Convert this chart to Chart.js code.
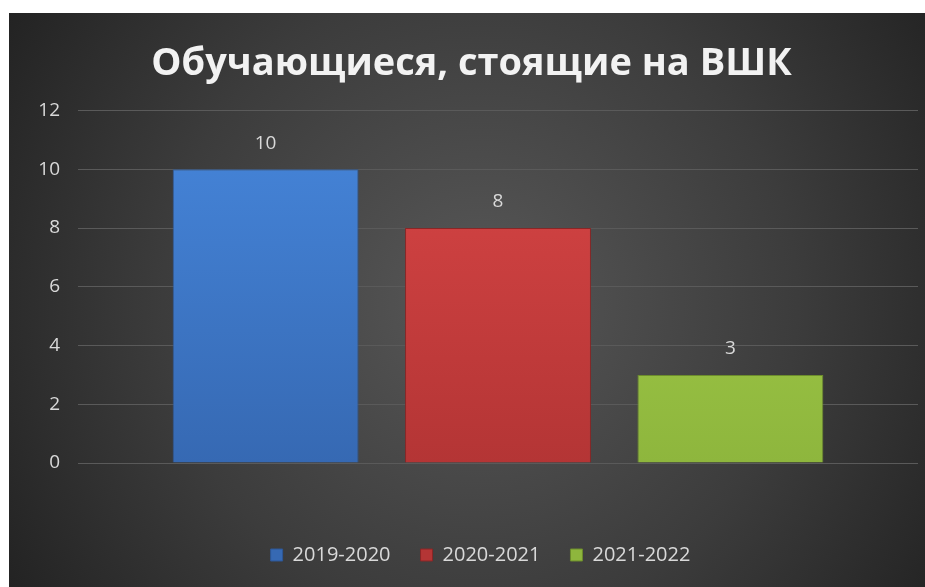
<!DOCTYPE html>
<html>
<head>
<meta charset="utf-8">
<script src="https://cdn.jsdelivr.net/npm/chart.js@4/dist/chart.umd.min.js"></script>
<style>
  html, body { margin: 0; padding: 0; background: #fff; }
  #chart { display: block; }
</style>
</head>
<body>
<canvas id="chart" width="925" height="587"></canvas>
<script>
// Chart data
const chartTitle = "Обучающиеся, стоящие на ВШК";
const categories = [""];
const seriesNames = ["2019-2020", "2020-2021", "2021-2022"];
const seriesValues = [10, 8, 3];
const yTicks = [0, 2, 4, 6, 8, 10, 12];

// colours: [top, bottom, border]
const palette = [
  ["#4686db", "#3669b3", "#2c5796"],
  ["#d94646", "#b43535", "#8a2626"],
  ["#a8d24c", "#8eb63d", "#6c8c2c"]
];

Chart.defaults.font.family = "'Open Sans', sans-serif";

function barFill(i) {
  return (c) => {
    const area = c.chart.chartArea;
    if (!area) return palette[i][0];
    const g = c.chart.ctx.createLinearGradient(0, area.top, 0, area.bottom);
    g.addColorStop(0, palette[i][0]);
    g.addColorStop(1, palette[i][1]);
    return g;
  };
}

// dark backdrop with a soft light in the middle
const backdrop = {
  id: "backdrop",
  beforeDraw(chart) {
    const c = chart.ctx;
    c.save();
    c.fillStyle = "#ffffff";
    c.fillRect(0, 0, chart.width, chart.height);
    const g = c.createRadialGradient(480, 300, 20, 480, 300, 560);
    g.addColorStop(0, "#565656");
    g.addColorStop(0.55, "#3c3c3c");
    g.addColorStop(1, "#222222");
    c.fillStyle = g;
    c.fillRect(9, 13, chart.width - 9, chart.height - 13);
    c.restore();
  }
};

// nudge title and legend a little to the right, like the original
const nudge = {
  id: "nudge",
  afterLayout(chart) {
    const t = chart.titleBlock, l = chart.legend;
    if (t) { t.left += 8; t.right += 8; }
    if (l) { l.left += 17; l.right += 17; }
  }
};

// value labels above the bars
const valueLabels = {
  id: "valueLabels",
  afterDatasetsDraw(chart) {
    const c = chart.ctx;
    c.save();
    c.font = "19px 'Open Sans', sans-serif";
    c.fillStyle = "#d9d9d9";
    c.textAlign = "center";
    c.textBaseline = "middle";
    chart.data.datasets.forEach((ds, i) => {
      chart.getDatasetMeta(i).data.forEach((bar, j) => {
        c.fillText(ds.data[j], bar.x, bar.y - 26);
      });
    });
    c.restore();
  }
};

new Chart(document.getElementById("chart"), {
  type: "bar",
  data: {
    labels: categories,
    datasets: seriesNames.map((name, i) => ({
      label: name,
      data: [seriesValues[i]],
      backgroundColor: barFill(i),
      borderColor: palette[i][2],
      borderWidth: 1,
      categoryPercentage: 0.83,
      barPercentage: 0.8
    }))
  },
  options: {
    responsive: false,
    animation: false,
    layout: { padding: { left: 9, right: 7, top: 13, bottom: 12 } },
    plugins: {
      title: {
        display: true,
        text: chartTitle,
        color: "#f2f2f2",
        font: { size: 38, weight: "bold" },
        padding: { top: 28, bottom: 24 }
      },
      legend: {
        position: "bottom",
        labels: {
          color: "#d9d9d9",
          font: { size: 20 },
          boxWidth: 12,
          boxHeight: 12,
          padding: 30
        }
      },
      tooltip: { enabled: false }
    },
    scales: {
      x: {
        grid: { display: false },
        border: { display: false },
        ticks: { display: false },
        afterFit: (s) => { s.height = 52; }
      },
      y: {
        min: 0,
        max: 12,
        afterBuildTicks: (s) => { s.ticks = yTicks.map(v => ({ value: v })); },
        afterFit: (s) => { s.width = 69; },
        grid: { color: "#5a5a5a", drawTicks: false },
        border: { display: false },
        ticks: { color: "#d9d9d9", font: { size: 19 }, padding: 18 }
      }
    }
  },
  plugins: [backdrop, nudge, valueLabels]
});
</script>
</body>
</html>
